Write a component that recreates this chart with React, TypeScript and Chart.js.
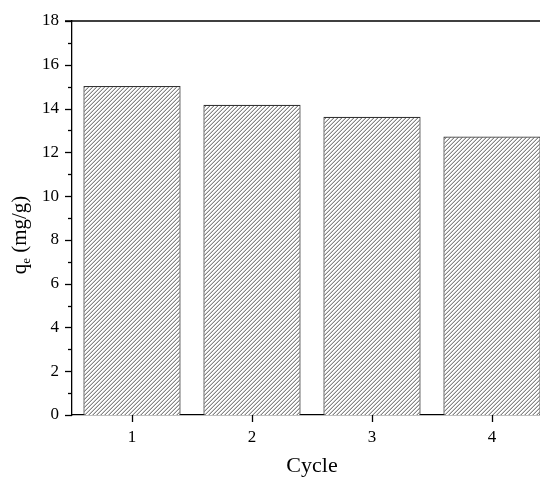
import React, { useEffect, useRef } from "react";
import { Chart, registerables } from "chart.js";

Chart.register(...registerables);

const categories = ["1", "2", "3", "4"];
const qeValues = [15.03, 14.17, 13.62, 12.72];
const yMin = 0;
const yMax = 18;
const yStep = 2;
const xTitle = "Cycle";
const yTitleMain = "q";
const yTitleSub = "e";
const yTitleRest = " (mg/g)";

const FONT = "'Liberation Serif', 'Times New Roman', serif";

function makeHatch(): CanvasPattern | string {
  const c = document.createElement("canvas");
  c.width = 4;
  c.height = 4;
  const g = c.getContext("2d");
  if (!g) return "#ccc";
  g.fillStyle = "#ffffff";
  g.fillRect(0, 0, 4, 4);
  for (let x = 0; x < 4; x++) {
    for (let y = 0; y < 4; y++) {
      const k = (x + y) % 4;
      if (k === 3) {
        g.fillStyle = "#858585";
        g.fillRect(x, y, 1, 1);
      } else if (k === 2) {
        g.fillStyle = "#cdcdcd";
        g.fillRect(x, y, 1, 1);
      }
    }
  }
  const p = g.createPattern(c, "repeat");
  return p || "#ccc";
}

const axisDecor = {
  id: "axisDecor",
  afterDraw(chart: any) {
    const ctx = chart.ctx;
    const ys = chart.scales.y;
    const xs = chart.scales.x;
    const area = chart.chartArea;
    ctx.save();
    ctx.strokeStyle = "#000";
    ctx.lineWidth = 1.3;
    // top frame line
    ctx.beginPath();
    ctx.moveTo(area.left - 7, ys.getPixelForValue(yMax));
    ctx.lineTo(area.right, ys.getPixelForValue(yMax));
    ctx.stroke();
    // y ticks major + minor
    for (let v = yMin; v <= yMax; v += yStep / 2) {
      const py = Math.round(ys.getPixelForValue(v)) + 0.5;
      const major = Math.abs(v / yStep - Math.round(v / yStep)) < 1e-6;
      const len = major ? 7 : 4;
      ctx.beginPath();
      ctx.moveTo(area.left - len, py);
      ctx.lineTo(area.left, py);
      ctx.stroke();
    }
    // x ticks
    for (let i = 0; i < categories.length; i++) {
      const px = Math.round(xs.getPixelForValue(i)) + 0.5;
      ctx.beginPath();
      ctx.moveTo(px, area.bottom);
      ctx.lineTo(px, area.bottom + 7);
      ctx.stroke();
    }
    // y title with subscript
    ctx.fillStyle = "#000";
    ctx.textBaseline = "alphabetic";
    ctx.textAlign = "left";
    const mainFont = `21px ${FONT}`;
    const subFont = `13px ${FONT}`;
    ctx.font = mainFont;
    const wMain = ctx.measureText(yTitleMain).width;
    const wRest = ctx.measureText(yTitleRest).width;
    ctx.font = subFont;
    const wSub = ctx.measureText(yTitleSub).width;
    const total = wMain + wSub + wRest;
    const cx = 26;
    const cy = 235;
    ctx.translate(cx, cy);
    ctx.rotate(-Math.PI / 2);
    let x0 = -total / 2;
    ctx.font = mainFont;
    ctx.fillText(yTitleMain, x0, 0);
    x0 += wMain;
    ctx.font = subFont;
    ctx.fillText(yTitleSub, x0, 4);
    x0 += wSub;
    ctx.font = mainFont;
    ctx.fillText(yTitleRest, x0, 0);
    ctx.restore();
  },
};

if (typeof document !== "undefined") {
  document.body.style.margin = "0";
  document.body.style.overflow = "hidden";
}

export default function App() {
  const ref = useRef<HTMLCanvasElement | null>(null);
  useEffect(() => {
    document.body.style.margin = "0";
    document.body.style.overflow = "hidden";
    const canvas = ref.current;
    if (!canvas) return;
    const hatch = makeHatch();
    const chart = new Chart(canvas, {
      type: "bar",
      data: {
        labels: categories,
        datasets: [
          {
            data: qeValues,
            backgroundColor: hatch as any,
            borderColor: "#333333",
            borderWidth: 1.2,
            barPercentage: 0.81,
            categoryPercentage: 1,
          },
        ],
      },
      options: {
        responsive: false,
        animation: false,
        events: [],
        layout: { padding: { top: 21, right: 28, left: 0, bottom: 0 } },
        plugins: {
          legend: { display: false },
          tooltip: { enabled: false },
        },
        scales: {
          x: {
            type: "category",
            grid: { display: false },
            border: { display: true, color: "#000", width: 1.3 },
            ticks: {
              color: "#000",
              font: { family: FONT, size: 17 },
              padding: 4,
              maxRotation: 0,
            },
            title: {
              display: true,
              text: xTitle,
              color: "#000",
              font: { family: FONT, size: 22 },
              padding: { top: 0, bottom: 0 },
            },
            afterFit: (s: any) => {
              s.height = 64;
            },
          },
          y: {
            min: yMin,
            max: yMax,
            grid: { display: false },
            border: { display: true, color: "#000", width: 1.3 },
            ticks: {
              stepSize: yStep,
              color: "#000",
              font: { family: FONT, size: 17 },
              padding: 5,
            },
            afterFit: (s: any) => {
              s.width = 72;
            },
          },
        },
      },
      plugins: [axisDecor],
    });
    return () => chart.destroy();
  }, []);
  return (
    <div
      style={{
        position: "relative",
        width: 540,
        height: 479,
        overflow: "hidden",
        background: "#fff",
      }}
    >
      <canvas ref={ref} width={580} height={479} style={{ display: "block" }} />
    </div>
  );
}
